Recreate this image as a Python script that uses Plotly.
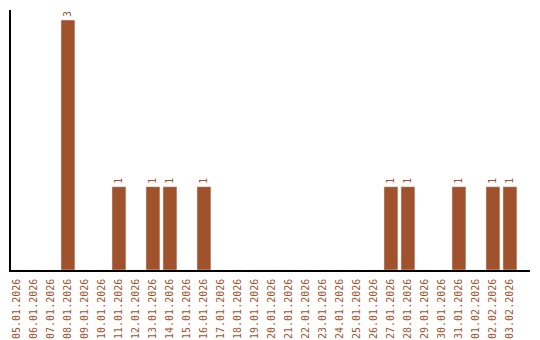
import plotly.graph_objects as go

dates = ["05.01.2026", "06.01.2026", "07.01.2026", "08.01.2026", "09.01.2026",
         "10.01.2026", "11.01.2026", "12.01.2026", "13.01.2026", "14.01.2026",
         "15.01.2026", "16.01.2026", "17.01.2026", "18.01.2026", "19.01.2026",
         "20.01.2026", "21.01.2026", "22.01.2026", "23.01.2026", "24.01.2026",
         "25.01.2026", "26.01.2026", "27.01.2026", "28.01.2026", "29.01.2026",
         "30.01.2026", "31.01.2026", "01.02.2026", "02.02.2026", "03.02.2026"]
counts = [0, 0, 0, 3, 0, 0, 1, 0, 1, 1, 0, 1, 0, 0, 0, 0, 0, 0, 0, 0,
          0, 0, 1, 1, 0, 0, 1, 0, 1, 1]

color = "#A0522D"
labels = [str(v) if v else "" for v in counts]

fig = go.Figure(go.Bar(
    x=dates, y=counts, marker_color=color, text=labels,
    textposition="outside", textangle=-90, cliponaxis=False,
    textfont=dict(family="DejaVu Sans Mono", size=10, color=color),
))
fig.update_layout(
    width=540, height=340, margin=dict(l=11, r=10, t=10, b=70),
    paper_bgcolor="white", plot_bgcolor="white", bargap=0.18,
    showlegend=False,
)
fig.update_xaxes(type="category", tickangle=-90, showgrid=False,
                 range=[-0.35, 30.18], automargin=False,
                 showline=True, linecolor="black", linewidth=1.5,
                 ticks="", ticklabelstandoff=3,
                 tickfont=dict(family="DejaVu Sans Mono", size=10, color=color))
fig.update_yaxes(range=[0, 3.12], showgrid=False, showticklabels=False,
                 automargin=False,
                 showline=True, linecolor="black", linewidth=1.5, ticks="",
                 zeroline=False)
fig.write_html("out.html")
